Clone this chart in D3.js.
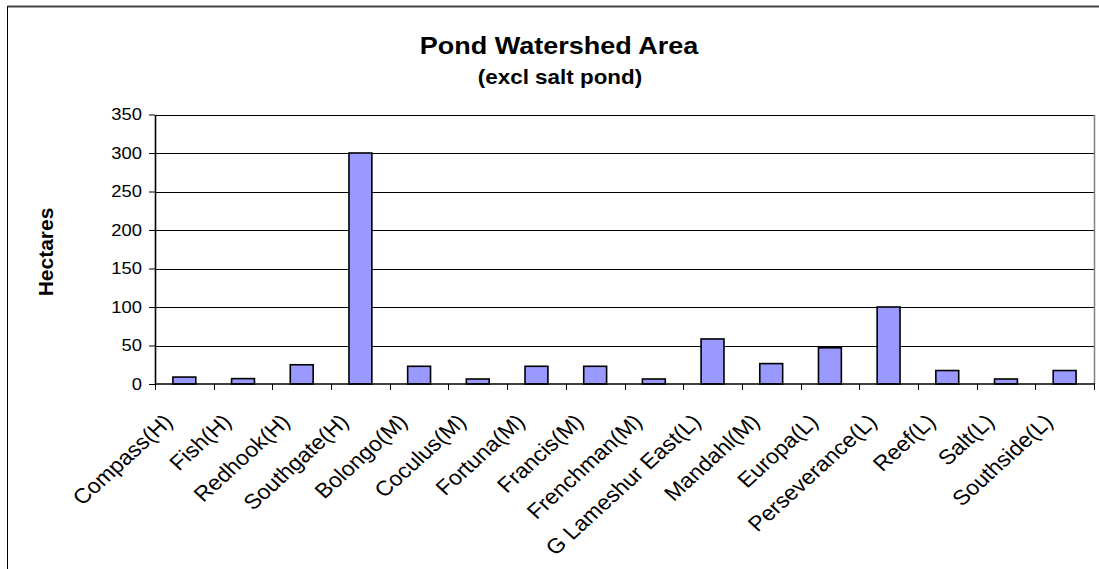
<!DOCTYPE html>
<html>
<head>
<meta charset="utf-8">
<script src="https://cdn.jsdelivr.net/npm/d3@7"></script>
<style>
  html, body { margin: 0; padding: 0; background: #fff; }
  svg { display: block; font-family: Arial, "Liberation Sans", sans-serif; }
</style>
</head>
<body>
<svg id="chart" width="1099" height="569"></svg>
<script>
// Pond watershed areas in hectares (salt pond excluded)
const ponds = [
  "Compass(H)", "Fish(H)", "Redhook(H)", "Southgate(H)", "Bolongo(M)", "Coculus(M)",
  "Fortuna(M)", "Francis(M)", "Frenchman(M)", "G Lameshur East(L)", "Mandahl(M)",
  "Europa(L)", "Perseverance(L)", "Reef(L)", "Salt(L)", "Southside(L)"
];
const hectares = [9, 7, 25, 300, 23, 6.5, 23, 23, 6.5, 58.5, 26.5, 47, 100, 17.5, 6.5, 17.5];
const yTicks = [0, 50, 100, 150, 200, 250, 300, 350];

const titleText = "Pond Watershed Area";
const subtitleText = "(excl salt pond)";
const yTitle = "Hectares";

const svg = d3.select("#chart");
const plot = { left: 155, right: 1094, top: 114.5, bottom: 384 };
const stretch = 1.15;     // horizontal text widening used throughout
const labelStretch = 1.1;

// outer chart frame
svg.append("line").attr("x1", 7.5).attr("x2", 1099).attr("y1", 6.5).attr("y2", 6.5)
  .attr("stroke", "#444").attr("stroke-width", 2);
svg.append("line").attr("x1", 7.5).attr("x2", 7.5).attr("y1", 6).attr("y2", 569)
  .attr("stroke", "#000").attr("stroke-width", 1);

const x = d3.scaleBand().domain(ponds).range([plot.left, plot.right])
  .paddingInner(0.61).paddingOuter(0.305);
const y = d3.scaleLinear().domain([0, 350]).range([plot.bottom, plot.top]);

// horizontal gridlines
svg.append("g").selectAll("line").data(yTicks.slice(1)).join("line")
  .attr("x1", plot.left).attr("x2", plot.right)
  .attr("y1", d => Math.round(y(d)) + 0.5).attr("y2", d => Math.round(y(d)) + 0.5)
  .attr("stroke", "#000").attr("stroke-width", 1);

// right border of plot area
svg.append("line").attr("x1", plot.right + 0.5).attr("x2", plot.right + 0.5)
  .attr("y1", Math.round(y(350))).attr("y2", plot.bottom)
  .attr("stroke", "#808080").attr("stroke-width", 1.5);

// bars
svg.append("g").selectAll("rect").data(hectares).join("rect")
  .attr("x", (d, i) => x(ponds[i]))
  .attr("y", d => y(d))
  .attr("width", x.bandwidth())
  .attr("height", d => y(0) - y(d))
  .attr("fill", "#9999FF")
  .attr("stroke", "#000").attr("stroke-width", 1.6);

// y axis
const yAxis = svg.append("g").attr("transform", `translate(${plot.left},0)`)
  .call(d3.axisLeft(y).tickValues(yTicks).tickSize(6).tickPadding(7).tickSizeOuter(0));
yAxis.select(".domain").attr("stroke", "#000").attr("stroke-width", 1.6);
yAxis.selectAll(".tick line").attr("stroke", "#000").attr("stroke-width", 1);
yAxis.selectAll(".tick text")
  .attr("font-size", 16).attr("fill", "#000")
  .attr("font-family", "Arial, 'Liberation Sans', sans-serif")
  .attr("transform", `scale(${stretch},1)`)
  .attr("x", -13 / stretch);

// x axis: ticks at category boundaries
const step = x.step();
const bounds = d3.range(ponds.length + 1).map(i => plot.left + i * step);
const xAxis = svg.append("g");
xAxis.append("line").attr("x1", plot.left).attr("x2", plot.right + 1)
  .attr("y1", plot.bottom).attr("y2", plot.bottom)
  .attr("stroke", "#000").attr("stroke-width", 1.6);
xAxis.selectAll("line.tk").data(bounds).join("line").attr("class", "tk")
  .attr("x1", d => Math.round(d) + 0.5).attr("x2", d => Math.round(d) + 0.5)
  .attr("y1", plot.bottom).attr("y2", plot.bottom + 6)
  .attr("stroke", "#000").attr("stroke-width", 1);

// rotated category labels
xAxis.selectAll("text").data(ponds).join("text")
  .attr("transform", d =>
    `translate(${x(d) + x.bandwidth() / 2 - 10.4},${plot.bottom + 39}) scale(${labelStretch},1) rotate(-45)`)
  .attr("text-anchor", "end")
  .attr("font-size", 21)
  .attr("fill", "#000")
  .text(d => d);

// titles
svg.append("text")
  .attr("transform", `translate(559,53.5) scale(${stretch},1)`)
  .attr("text-anchor", "middle").attr("font-weight", "bold").attr("font-size", 23.5)
  .text(titleText);
svg.append("text")
  .attr("transform", `translate(560,83.5) scale(${stretch},1)`)
  .attr("text-anchor", "middle").attr("font-weight", "bold").attr("font-size", 19.5)
  .text(subtitleText);
svg.append("text")
  .attr("transform", `translate(53,252) rotate(-90)`)
  .attr("text-anchor", "middle").attr("font-weight", "bold").attr("font-size", 21)
  .text(yTitle);
</script>
</body>
</html>
